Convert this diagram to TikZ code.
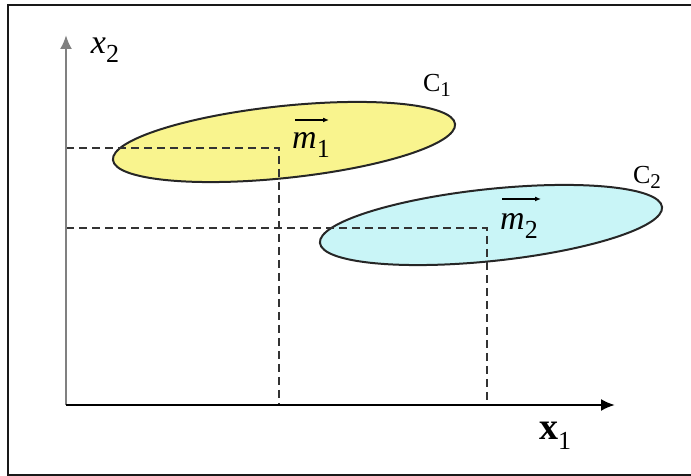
\documentclass[tikz,border=0pt]{standalone}
\usepackage{fontspec}
\setmainfont{Liberation Serif}
\usetikzlibrary{arrows.meta,shapes.geometric}
\definecolor{clyellow}{HTML}{F9F48E}
\definecolor{clcyan}{HTML}{C9F5F7}

\begin{document}
\begin{tikzpicture}[x=1pt,y=1pt,>={Latex[length=14pt,width=12pt]},
  cluster/.style={ellipse,draw=black!85,line width=2pt,minimum width=344pt,minimum height=72pt,inner sep=0pt,rotate=6},
  guide/.style={dash pattern=on 8pt off 5pt,line width=1.8pt,black!80},
  vec/.style={-{Latex[length=6pt,width=5pt]},line width=1.6pt},
  lab/.style={inner sep=0pt,font=\fontsize{34}{38}\selectfont},
  clab/.style={inner sep=0pt,font=\fontsize{26}{30}\selectfont}]
  \useasboundingbox (0,0) rectangle (691,476);
  \draw[line width=2.4pt,black!90] (691,471) -- (8,471) -- (8,1) -- (691,1);

  % the two clusters
  \node[cluster,fill=clyellow] (e1) at (284,334) {};
  \node[cluster,fill=clcyan] (e2) at (491,251) {};

  % axes and mean projections
  \coordinate (O) at (66,71);
  \coordinate (ytip) at (66,441);
  \coordinate (xtip) at (615,71);
  \coordinate (m1) at (279,328);
  \coordinate (m2) at (487,248);
  \draw[guide] (O |- m1) -- (m1) -- (m1 |- O);
  \draw[guide] (O |- m2) -- (m2) -- (m2 |- O);
  \draw[->,line width=2.2pt,gray] (O) -- (ytip);
  \draw[->,line width=2.2pt] (O) -- (xtip);

  % labels
  \node[lab] (x2) at (105,426) {\textit{x}\raisebox{-9pt}{\fontsize{26}{30}\selectfont 2}};
  \node[lab] (x1) at (555,40) {\fontsize{38}{42}\selectfont\textbf{x}\raisebox{-10pt}{\fontsize{26}{30}\selectfont 1}};
  \node[clab] (c1) at (437,391) {C\raisebox{-5pt}{\fontsize{21}{24}\selectfont 1}};
  \node[clab] (c2) at (647,299) {C\raisebox{-5pt}{\fontsize{21}{24}\selectfont 2}};
  \node[lab] (m1lab) at (311,331) {\textit{m}\raisebox{-9pt}{\fontsize{26}{30}\selectfont 1}};
  \node[lab] (m2lab) at (519,250) {\textit{m}\raisebox{-9pt}{\fontsize{26}{30}\selectfont 2}};
  \coordinate (v1a) at (295,356);
  \coordinate (v1b) at (329,356);
  \coordinate (v2a) at (502,277);
  \coordinate (v2b) at (541,277);
  \draw[vec] (v1a) -- (v1b);
  \draw[vec] (v2a) -- (v2b);
\end{tikzpicture}
\end{document}
